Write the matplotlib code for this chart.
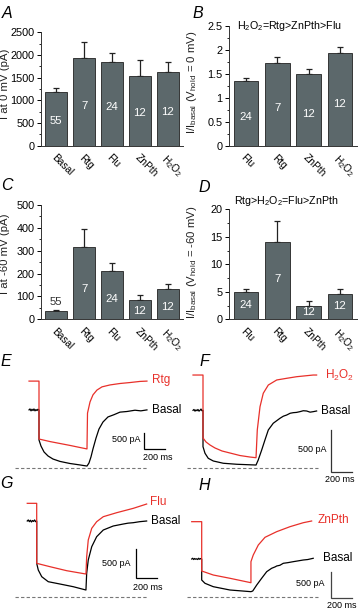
import matplotlib
matplotlib.use("Agg")
import matplotlib.pyplot as plt
import numpy as np

plt.rcParams["font.family"] = ["Liberation Sans", "DejaVu Sans"]
plt.rcParams["mathtext.fontset"] = "custom"
plt.rcParams["mathtext.rm"] = "Liberation Sans"
plt.rcParams["mathtext.it"] = "Liberation Sans:italic"
plt.rcParams["mathtext.default"] = "regular"

# ---- bar data (panels A-D) ----
labels_ac = ["Basal", "Rtg", "Flu", "ZnPth", "H$_2$O$_2$"]
n_ac = [55, 7, 24, 12, 12]
i0_mean = [1175, 1925, 1850, 1545, 1630]
i0_err = [100, 365, 185, 345, 215]
i60_mean = [36, 315, 213, 84, 131]
i60_err = [5, 79, 32, 21, 25]

labels_bd = ["Flu", "Rtg", "ZnPth", "H$_2$O$_2$"]
n_bd = [24, 7, 12, 12]
r0_mean = [1.35, 1.73, 1.49, 1.93]
r0_err = [0.05, 0.125, 0.11, 0.125]
r60_mean = [4.9, 14.1, 2.4, 4.6]
r60_err = [0.66, 3.8, 0.9, 0.95]

# ---- current traces (panels E-H), time in ms, current in pA ----
e_red_t = [-95, 0, 0, 105, 200, 295, 390, 457, 462, 486, 514, 552, 600, 676, 771, 867, 962, 1028]
e_red_i = [2700, 2700, 890, 810, 750, 690, 625, 580, 1700, 2050, 2270, 2420, 2520, 2580, 2625, 2655, 2690, 2700]
e_blk_t = [-95, -86, -76, -67, -57, -48, -38, -29, -19, -10, 0, 0, 19, 48, 86, 133, 200, 295, 390, 457,
           476, 495, 514, 543, 571, 609, 657, 714, 771, 838, 914, 970, 1028]
e_blk_i = [1800, 1830, 1770, 1820, 1780, 1830, 1770, 1810, 1780, 1820, 1800, 860, 670, 485, 360, 265, 190, 125, 80, 45,
           140, 330, 580, 920, 1200, 1420, 1580, 1650, 1730, 1750, 1790, 1770, 1800]

f_red_t = [-95, 0, 0, 29, 67, 114, 181, 257, 352, 448, 505, 517, 543, 574, 622, 702, 797, 892, 1050, 1082]
f_red_i = [1110, 1110, 361, 313, 277, 242, 206, 182, 152, 134, 126, 456, 733, 893, 991, 1051, 1071, 1090, 1110, 1110]
f_blk_t = [-95, -86, -76, -67, -57, -48, -38, -29, -19, -10, 0, 0, 19, 50, 98, 193, 321, 505, 526, 559, 590,
           622, 669, 733, 765, 797, 830, 860, 890, 923, 955, 987, 1020, 1050, 1082]
f_blk_i = [690, 700, 680, 695, 685, 700, 680, 690, 705, 685, 690, 257, 179, 119, 87, 60, 48, 39, 99, 218, 337,
           456, 536, 595, 620, 634, 655, 662, 665, 674, 685, 682, 668, 674, 682]

g_red_t = [-90, 0, 0, 127, 286, 469, 476, 491, 524, 571, 634, 762, 920, 1047]
g_red_i = [1606, 1606, 574, 516, 447, 390, 688, 975, 1176, 1290, 1376, 1445, 1520, 1594]
g_blk_t = [-90, -80, -70, -60, -50, -40, -30, -20, -10, 0, 0, 15, 48, 110, 222, 348, 469, 476, 491, 524,
           571, 634, 729, 824, 870, 920, 980, 1047]
g_blk_i = [1302, 1320, 1290, 1315, 1285, 1310, 1295, 1320, 1290, 1302, 574, 459, 344, 258, 218, 172, 115, 402, 631, 860,
           1032, 1147, 1216, 1250, 1265, 1273, 1290, 1302]

h_red_t = [-95, 0, 0, 110, 269, 469, 469, 491, 539, 603, 714, 841, 967, 1047]
h_red_i = [1452, 1452, 505, 428, 365, 280, 684, 812, 1004, 1152, 1260, 1356, 1432, 1465]
h_blk_t = [-95, -86, -76, -67, -57, -48, -38, -29, -19, -10, 0, 0, 31, 110, 269, 469, 486, 524, 571, 619,
           666, 700, 714, 745, 777, 820, 872, 920, 967, 1010, 1062]
h_blk_i = [735, 750, 725, 745, 730, 740, 725, 750, 730, 745, 735, 332, 269, 204, 140, 108, 121, 236, 365, 492,
           557, 585, 601, 615, 653, 665, 684, 700, 716, 725, 749]

W, H = 360, 610
BAR = "#5c686b"
RED = "#e8302a"
fig = plt.figure(figsize=(W / 100, H / 100), dpi=100)


def P(x, y):
    return x / W, 1 - y / H


def bar_panel(x0, x1, ytop, ybot, labels, means, errs, ns, ylim, yticks, minor, frac):
    ax = fig.add_axes([x0 / W, 1 - ybot / H, (x1 - x0) / W, (ybot - ytop) / H])
    x = np.arange(len(means))
    ax.bar(x, means, 0.78, color=BAR, edgecolor="#222222", linewidth=0.6, zorder=2)
    ax.errorbar(x, means, yerr=[np.zeros(len(errs)), errs], fmt="none", ecolor="#222222",
                elinewidth=0.9, capsize=2.5, capthick=0.9, zorder=1)
    for xi, m, e, n in zip(x, means, errs, ns):
        if m / ylim < 0.1:
            ax.text(xi, m + e + ylim * 0.025, str(n), color="#333333", ha="center", va="bottom", fontsize=8.2)
        else:
            ax.text(xi, m * frac, str(n), color="white", ha="center", va="center", fontsize=8.2)
    ax.set_xlim(-0.55, len(means) - 0.45)
    ax.set_ylim(0, ylim)
    ax.set_yticks(yticks)
    ax.set_yticks(minor, minor=True)
    ax.set_xticks(x)
    ax.set_xticklabels(labels, rotation=-45, ha="left", va="top", rotation_mode="anchor", fontsize=7.3)
    ax.tick_params(axis="x", length=0, pad=5)
    ax.tick_params(axis="y", which="major", length=3, width=0.7, labelsize=7.8, pad=1.5)
    ax.tick_params(axis="y", which="minor", length=1.8, width=0.6)
    for s in ["top", "right"]:
        ax.spines[s].set_visible(False)
    for s in ["left", "bottom"]:
        ax.spines[s].set_linewidth(0.7)
        ax.spines[s].set_color("#333333")
    return ax


axA = bar_panel(41, 183, 32.3, 145.7, labels_ac, i0_mean, i0_err, n_ac, 2500,
                [0, 500, 1000, 1500, 2000, 2500], np.arange(250, 2500, 500), 0.46)
axA.set_yticklabels(["0", "500", "1000", "1500", "2000", "2500"])
axB = bar_panel(229, 357, 25.7, 145.7, labels_bd, r0_mean, r0_err, n_bd, 2.5,
                [0, 0.5, 1, 1.5, 2, 2.5], np.arange(0.25, 2.5, 0.5), 0.45)
axB.set_yticklabels(["0", "0.5", "1", "1.5", "2", "2.5"])
axC = bar_panel(41, 183, 205, 319.3, labels_ac, i60_mean, i60_err, n_ac, 500,
                [0, 100, 200, 300, 400, 500], np.arange(50, 500, 100), 0.42)
axD = bar_panel(229, 357, 209.3, 319.3, labels_bd, r60_mean, r60_err, n_bd, 20,
                [0, 5, 10, 15, 20], np.arange(2.5, 20, 5), 0.52)

ylab = dict(rotation=90, ha="center", va="center", fontsize=8.2, color="#222222")
fig.text(*P(5.5, 84), "I at 0 mV (pA)", **ylab)
fig.text(*P(192, 82), "I/I$_{basal}$ (V$_{hold}$ = 0 mV)", **ylab)
fig.text(*P(5.5, 254), "I at -60 mV (pA)", **ylab)
fig.text(*P(192, 262), "I/I$_{basal}$ (V$_{hold}$ = -60 mV)", **ylab)

fig.text(*P(289, 26), "H$_2$O$_2$=Rtg>ZnPth>Flu", ha="center", va="center", fontsize=7.7)
fig.text(*P(286, 201), "Rtg>H$_2$O$_2$=Flu>ZnPth", ha="center", va="center", fontsize=7.7)

for letter, (lx, ly) in zip("ABCDEFGH", [(7.5, 13), (198, 14), (7, 186), (204, 187),
                                          (5.5, 362), (204, 362), (6, 483), (204, 485)]):
    fig.text(*P(lx, ly), letter, ha="center", va="center", fontsize=11.5, style="italic")


def trace_panel(x0, x1, ytop, ybot, t_px, i_px, pa_px, red_t, red_i, blk_t, blk_i, dash_px, bar_px, bar_col):
    ms_px = 200 / 21
    ax = fig.add_axes([x0 / W, 1 - ybot / H, (x1 - x0) / W, (ybot - ytop) / H])
    ax.set_xlim((x0 - t_px) * ms_px, (x1 - t_px) * ms_px)
    ax.set_ylim((i_px - ybot) * pa_px, (i_px - ytop) * pa_px)
    ax.axis("off")
    ax.plot([(dash_px[0] - t_px) * ms_px, (dash_px[1] - t_px) * ms_px], [0, 0],
            ls=(0, (3, 2)), color="#777777", lw=0.8)
    ax.plot(blk_t, blk_i, color="black", lw=0.9)
    ax.plot(red_t, red_i, color=RED, lw=0.9)
    bt, bi = (bar_px[0] - t_px) * ms_px, (i_px - bar_px[1]) * pa_px
    ax.plot([bt, bt, bt + 200], [bi + 500, bi, bi], color=bar_col, lw=0.9, solid_joinstyle="miter")
    return ax


trace_panel(10, 178, 365, 475, 39, 467.5, 31.25, e_red_t, e_red_i, e_blk_t, e_blk_i, (15, 147), (144, 449), "black")
trace_panel(185, 360, 365, 485, 203, 468.3, 11.9, f_red_t, f_red_i, f_blk_t, f_blk_i, (187, 318), (331, 472), "#333333")
trace_panel(10, 178, 495, 600, 36.7, 596.7, 17.2, g_red_t, g_red_i, g_blk_t, g_blk_i, (15, 147), (136, 578), "black")
trace_panel(185, 360, 495, 610, 201.7, 597.3, 19.2, h_red_t, h_red_i, h_blk_t, h_blk_i, (187, 318), (331, 598), "#444444")

tl = dict(ha="left", va="center", fontsize=8.5)
fig.text(*P(152, 380), "Rtg", color=RED, **tl)
fig.text(*P(152, 410), "Basal", color="black", **tl)
fig.text(*P(325, 375), "H$_2$O$_2$", color=RED, **tl)
fig.text(*P(321, 411), "Basal", color="black", **tl)
fig.text(*P(150, 502), "Flu", color=RED, **tl)
fig.text(*P(151, 521), "Basal", color="black", **tl)
fig.text(*P(318, 520), "ZnPth", color=RED, **tl)
fig.text(*P(323, 558), "Basal", color="black", **tl)

sb = dict(va="center", fontsize=6.5)
fig.text(*P(141, 439), "500 pA", ha="right", **sb)
fig.text(*P(158, 457), "200 ms", ha="center", **sb)
fig.text(*P(327, 449), "500 pA", ha="right", **sb)
fig.text(*P(340, 480), "200 ms", ha="center", **sb)
fig.text(*P(131, 563), "500 pA", ha="right", **sb)
fig.text(*P(148, 588), "200 ms", ha="center", **sb)
fig.text(*P(325, 583), "500 pA", ha="right", **sb)
fig.text(*P(342, 605), "200 ms", ha="center", **sb)

fig.savefig("out.png", dpi=100)
